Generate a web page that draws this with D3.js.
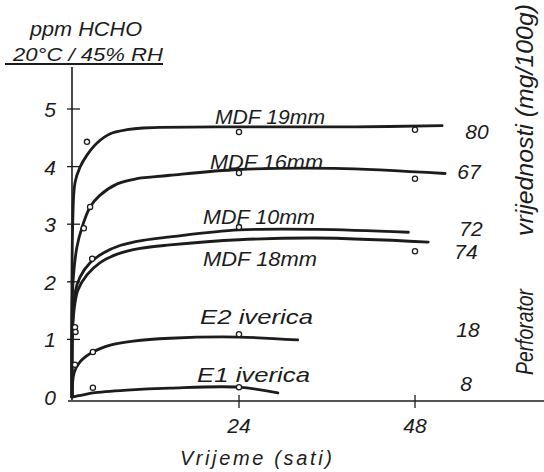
<!DOCTYPE html>
<html><head><meta charset="utf-8">
<script src="https://cdn.jsdelivr.net/npm/d3@7"></script>
<style>
html,body{margin:0;padding:0;background:#fff;}
svg{display:block;}
text{font-family:"Liberation Sans",Arial,sans-serif;font-style:italic;fill:#1c1c1c;}
</style></head><body>
<svg id="c" width="544" height="472"></svg>
<script>
// ---- data ----
const seriesNames = ["MDF 19mm","MDF 16mm","MDF 10mm","MDF 18mm","E2 iverica","E1 iverica"];
const perforatorValues = ["80","67","72","74","18","8"];
const hours19 = [0, 0.1, 0.43, 1.15, 2.15, 3.6, 5.5, 7.9, 10.2, 24, 40, 51.7];
const ppm19   = [0, 3.0, 3.72, 3.99, 4.2, 4.41, 4.57, 4.64, 4.67, 4.69, 4.69, 4.71];
const hours16 = [0, 0.1, 0.7, 1.45, 2.6, 4.0, 6.5, 9.3, 11.6, 14.1, 24, 37, 52.1];
const ppm16   = [0, 1.9, 2.6, 2.95, 3.3, 3.5, 3.7, 3.79, 3.82, 3.85, 3.95, 3.97, 3.88];
const hours10 = [0, 0.1, 0.43, 1.15, 2.6, 4.5, 6.9, 10.2, 14.1, 24, 34.6, 47.1];
const ppm10   = [0, 1.3, 1.81, 2.08, 2.33, 2.5, 2.63, 2.72, 2.78, 2.9, 2.91, 2.86];
const hours18 = [0, 0.1, 0.43, 0.86, 2.15, 4.0, 6.5, 9.8, 14.1, 24, 34.6, 49.8];
const ppm18   = [0, 1.2, 1.63, 1.86, 2.12, 2.33, 2.48, 2.58, 2.64, 2.73, 2.76, 2.69];
const hoursE2 = [0, 0.3, 1.15, 3.0, 5.5, 8.8, 14.1, 24, 32.0];
const ppmE2   = [0, 0.42, 0.61, 0.78, 0.9, 0.97, 1.02, 1.04, 0.99];
const hoursE1 = [0, 1.6, 3.0, 7.9, 14.1, 24, 29.3];
const ppmE1   = [0, 0.035, 0.07, 0.12, 0.155, 0.17, 0.07];
// measured points [hours, ppm]
const pts19 = [[2.15, 4.43],[24, 4.6],[48, 4.64]];
const pts16 = [[1.7, 2.93],[2.6, 3.3],[24, 3.89],[48, 3.79]];
const pts10 = [[2.9, 2.4],[24, 2.95]];
const pts18 = [[0.43, 1.21],[0.5, 1.13],[48, 2.53]];
const ptsE2 = [[0.43, 0.56],[3, 0.78],[24, 1.09]];
const ptsE1 = [[3, 0.16],[24, 0.17]];
const xTicks = [24, 48];
const yTicks = [0, 1, 2, 3, 4, 5];

// ---- layout ----
const svg = d3.select("#c");
const x = d3.scaleLinear().domain([0, 24, 48]).range([72, 239, 415]);
const y = d3.scaleLinear().domain([0, 5]).range([397, 109]);
const ink = "#1c1c1c";

// y axis
svg.append("line").attr("x1", x(0)).attr("x2", x(0)).attr("y1", 67).attr("y2", y(0) + 3)
  .attr("stroke", ink).attr("stroke-width", 1.6);
yTicks.slice(1).forEach(t => {
  svg.append("line").attr("x1", x(0) - 5).attr("x2", x(0) + 8).attr("y1", y(t)).attr("y2", y(t))
    .attr("stroke", ink).attr("stroke-width", 1.3);
});
yTicks.forEach(t => {
  svg.append("text").attr("x", 50).attr("y", y(t) + 8).attr("text-anchor", "middle")
    .attr("font-size", 21).text(t);
});
// x axis
svg.append("line").attr("x1", x(0) - 4).attr("x2", 544).attr("y1", y(0) + 4).attr("y2", y(0) + 4)
  .attr("stroke", ink).attr("stroke-width", 1.5);
xTicks.forEach(t => {
  svg.append("line").attr("x1", x(t)).attr("x2", x(t)).attr("y1", y(0) - 2).attr("y2", y(0) + 11)
    .attr("stroke", ink).attr("stroke-width", 1.3);
  svg.append("text").attr("x", x(t)).attr("y", 433).attr("text-anchor", "middle")
    .attr("font-size", 21).text(t);
});
svg.append("text").attr("x", 256).attr("y", 465).attr("text-anchor", "middle")
  .attr("font-size", 20).attr("textLength", 152).attr("lengthAdjust", "spacing").text("Vrijeme  (sati)");

// title
svg.append("text").attr("x", 30).attr("y", 36).attr("font-size", 20)
  .attr("textLength", 112).attr("lengthAdjust", "spacingAndGlyphs").text("ppm HCHO");
svg.append("text").attr("x", 13).attr("y", 61).attr("font-size", 19)
  .attr("textLength", 150).attr("lengthAdjust", "spacingAndGlyphs").text("20°C / 45% RH");
svg.append("line").attr("x1", 5).attr("x2", 163).attr("y1", 64).attr("y2", 64)
  .attr("stroke", ink).attr("stroke-width", 2.2);

// curves
const line = d3.line().x(d => x(d[0])).y(d => y(d[1])).curve(d3.curveCatmullRom.alpha(0.5));
const curves = [
  [hours19, ppm19], [hours16, ppm16], [hours10, ppm10],
  [hours18, ppm18], [hoursE2, ppmE2], [hoursE1, ppmE1]
];
curves.forEach(([h, v]) => {
  svg.append("path").datum(h.map((d, i) => [d, v[i]])).attr("d", line)
    .attr("fill", "none").attr("stroke", ink).attr("stroke-width", 2.8)
    .attr("stroke-linecap", "round").attr("stroke-linejoin", "round");
});
// points
[pts19, pts16, pts10, pts18, ptsE2, ptsE1].forEach(p => {
  svg.selectAll(null).data(p).enter().append("circle")
    .attr("cx", d => x(d[0])).attr("cy", d => y(d[1])).attr("r", 2.6)
    .attr("fill", "#fff").attr("stroke", ink).attr("stroke-width", 1.3);
});

// series labels
const labelPos = [[215,124,110],[210,169,113],[203,224,112],[203,266,114],[200,324,113],[197,382,113]];
seriesNames.forEach((n, i) => {
  const p = labelPos[i];
  svg.append("text").attr("x", p[0]).attr("y", p[1]).attr("font-size", 21)
    .attr("textLength", p[2]).attr("lengthAdjust", "spacingAndGlyphs").text(n);
});
// perforator values
const perfPos = [[477,139],[469,179],[471,236],[466,259],[468,337],[466,391]];
perforatorValues.forEach((v, i) => {
  svg.append("text").attr("x", perfPos[i][0]).attr("y", perfPos[i][1]).attr("text-anchor", "middle")
    .attr("font-size", 21).text(v);
});
// right rotated label
svg.append("text").attr("transform", "translate(533,375) rotate(-90)").attr("font-size", 23)
  .attr("textLength", 86).attr("lengthAdjust", "spacingAndGlyphs").text("Perforator");
svg.append("text").attr("transform", "translate(533,236) rotate(-90)").attr("font-size", 23)
  .attr("textLength", 232).attr("lengthAdjust", "spacingAndGlyphs").text("vrijednosti (mg/100g)");
</script>
</body></html>
